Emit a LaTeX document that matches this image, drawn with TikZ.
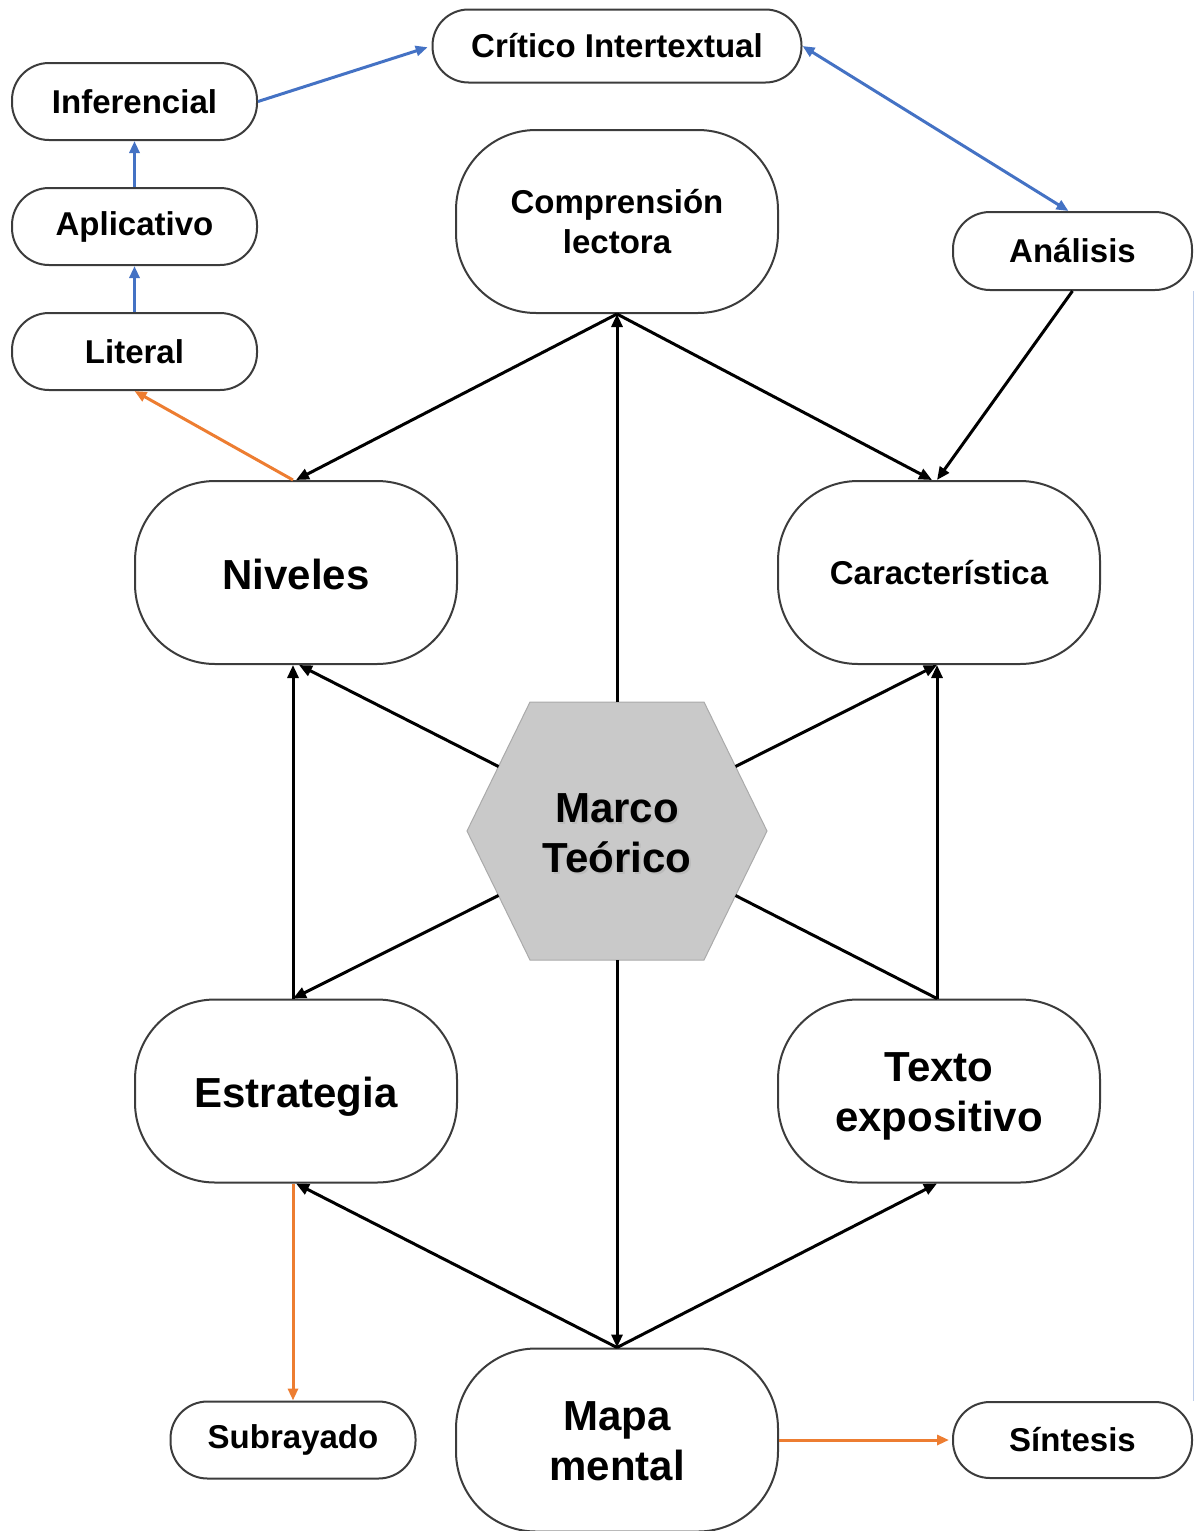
\documentclass[tikz,border=0pt]{standalone}
\usepackage{fontspec}
\setmainfont{Liberation Sans}
\usetikzlibrary{arrows.meta}
\definecolor{bl}{RGB}{68,114,196}
\definecolor{orng}{RGB}{237,125,49}
\definecolor{edgec}{RGB}{60,60,60}
\definecolor{hexfill}{RGB}{201,201,201}
\definecolor{hexedge}{RGB}{170,170,170}
\newcommand{\lowertext}[2]{\raisebox{-#1}[\height][\depth]{#2}}
\begin{document}
\begin{tikzpicture}[x=1pt,y=-1pt,
 smallbox/.style={draw=edgec,line width=2pt,rounded corners=37pt,minimum width=245pt,minimum height=77pt,inner sep=0pt,align=center,font=\fontsize{33}{40}\selectfont\bfseries},
 bigbox/.style={draw=edgec,line width=2pt,rounded corners=80pt,minimum width=322pt,minimum height=183pt,inner sep=0pt,align=center},
 bigtxt/.style={font=\fontsize{42}{50}\selectfont\bfseries},
 medtxt/.style={font=\fontsize{33}{40}\selectfont\bfseries},
 blk/.style={line width=3pt,-{Triangle[length=13pt,width=11pt]}},
 blkline/.style={line width=3pt},
 bluearr/.style={draw=bl,line width=3pt,-{Triangle[length=12pt,width=10pt]}},
 orarr/.style={draw=orng,line width=3pt,-{Triangle[length=12pt,width=10pt]}},
]
\useasboundingbox (0,0) rectangle (1194,1531);

% small boxes
\node[smallbox,minimum width=369pt,minimum height=73pt,rounded corners=36pt] (crit) at (617,46) {Crítico Intertextual};
\node[smallbox] (inf) at (134.5,101.5) {Inferencial};
\node[smallbox] (apl) at (134.5,226.5) {Aplicativo};
\node[smallbox] (lit) at (134.5,351.5) {Literal};
\node[smallbox,minimum width=239pt,minimum height=78pt] (ana) at (1072.5,251) {Análisis};
\node[smallbox] (sub) at (293,1440) {Subrayado};
\node[smallbox,minimum width=239pt,minimum height=76pt] (sin) at (1072.5,1440) {Síntesis};

% big boxes
\node[bigbox,medtxt] (comp) at (617,221.5) {Comprensión\\lectora};
\node[bigbox,bigtxt] (niv) at (296,572.5) {\lowertext{2pt}{Niveles}};
\node[bigbox,medtxt] (car) at (939,572.5) {Característica};
\node[bigbox,bigtxt] (est) at (296,1091) {\lowertext{6pt}{Estrategia}};
\node[bigbox,bigtxt] (tex) at (939,1091) {\lowertext{5pt}{\begin{tabular}{@{}c@{}}Texto\\expositivo\end{tabular}}};
\node[bigbox,bigtxt] (map) at (617,1440) {\lowertext{5pt}{\begin{tabular}{@{}c@{}}Mapa\\mental\end{tabular}}};

% hexagon
\coordinate (hL) at (467,831);
\coordinate (hTL) at (530,702);
\coordinate (hTR) at (704,702);
\coordinate (hR) at (767,831);
\coordinate (hBR) at (704,960);
\coordinate (hBL) at (530,960);
\draw[fill=hexfill,draw=hexedge,line width=1pt] (hL) -- (hTL) -- (hTR) -- (hR) -- (hBR) -- (hBL) -- cycle;
\coordinate (hTop) at (617,702);
\coordinate (hBot) at (617,960);
\coordinate (hUL) at (498.5,766.5);
\coordinate (hLL) at (498.5,895.5);
\coordinate (hUR) at (735.5,766.5);
\coordinate (hLR) at (735.5,895.5);
\node[bigtxt,align=center,text=gray!60,opacity=0.6] (marcoshadow) at (619,835) {Marco\\Teórico};
\node[bigtxt,align=center] (marco) at (617,833) {Marco\\Teórico};

% black connectors
\draw[blk] (hTop) -- (comp.south);
\draw[blk] (comp.south) -- (niv.north);
\draw[blk] (comp.south) -- ([xshift=-7pt]car.north);
\draw[blk] (ana.south) -- ([xshift=-2pt]car.north);
\draw[blk] (hUL) -- ([xshift=3pt]niv.south);
\draw[blk] ([xshift=-3pt]est.north) -- ([xshift=-3pt]niv.south);
\draw[blk] (hLL) -- ([xshift=-3pt]est.north);
\draw[blk] (hUR) -- ([xshift=-2pt]car.south);
\draw[blk] ([xshift=-2pt]tex.north) -- ([xshift=-2pt]car.south);
\draw[blkline] (hLR) -- ([xshift=-2pt]tex.north);
\draw[blk] (hBot) -- (map.north);
\draw[blk] (map.north) -- (est.south);
\draw[blk] (map.north) -- ([xshift=-2pt]tex.south);

% orange connectors
\draw[orarr] ([xshift=-3pt]niv.north) -- (lit.south);
\draw[orarr] ([xshift=-3pt]est.south) -- (sub.north);
\draw[orarr,shorten >=3pt] (map.east) -- (sin.west);

% blue connectors
\draw[bluearr] (lit.north) -- (apl.south);
\draw[bluearr] (apl.north) -- (inf.south);
\draw[bluearr,shorten >=4pt] (inf.east) -- (crit.west);
\draw[draw=bl,line width=3pt,{Triangle[length=12pt,width=10pt]}-{Triangle[length=12pt,width=10pt]}] (crit.east) -- ([xshift=-4pt]ana.north);
\draw[draw=bl!35,line width=1pt] (ana.south east) -- (sin.north east);
\end{tikzpicture}
\end{document}
